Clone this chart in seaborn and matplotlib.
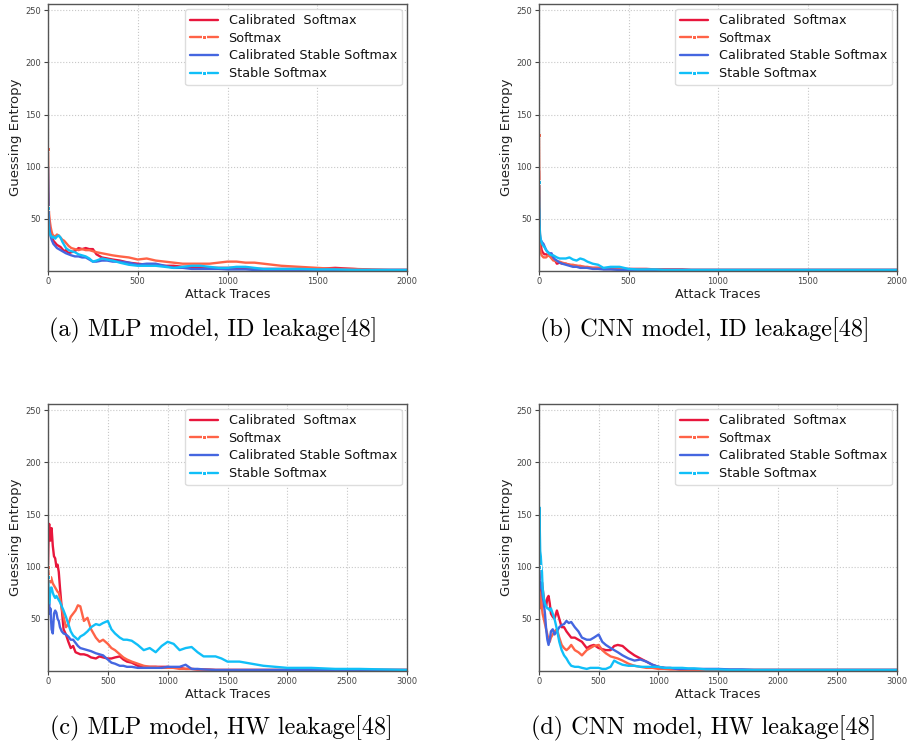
import numpy as np
import pandas as pd
import seaborn as sns
import matplotlib.pyplot as plt

# x grids (attack traces) shared by the panels
x_2000 = [0, 3, 6, 10, 15, 20, 25, 30, 40, 50, 60, 70, 80, 90, 100, 115, 130, 150, 170, 190,
          210, 230, 250, 270, 300, 330, 360, 400, 450, 500, 550, 600, 650, 700, 750, 800, 850,
          900, 950, 1000, 1050, 1100, 1150, 1200, 1300, 1400, 1500, 1600, 1700, 1800, 1900, 2000]
x_3000 = [0, 3, 6, 10, 15, 20, 25, 30, 40, 50, 60, 70, 80, 90, 100, 115, 130, 150, 170, 190,
          210, 230, 250, 270, 300, 330, 360, 400, 430, 460, 500, 530, 560, 600, 630, 660, 700,
          750, 800, 850, 900, 950, 1000, 1050, 1100, 1150, 1200, 1250, 1300, 1400, 1450, 1500,
          1600, 1700, 1800, 1900, 2000, 2200, 2400, 2600, 2800, 3000]

methods = ["Calibrated  Softmax", "Softmax", "Calibrated Stable Softmax", "Stable Softmax"]
colors = ["#e8163c", "#ff6347", "#4466e0", "#10bff8"]
markers = [None, "s", None, "s"]

# (a) MLP, ID leakage
a_cal_soft = [75, 58, 46, 40, 36, 33, 31, 29, 27, 25, 24, 23, 21, 19, 20, 17, 18, 19, 22, 21,
              22, 21, 21, 16, 13, 12, 11, 10, 8, 7, 6, 6, 5, 5, 4, 4, 4, 3, 3, 3,
              3, 3, 2, 2, 2, 2, 2, 3, 2, 1, 1, 1]
a_soft = [117, 70, 55, 48, 42, 38, 35, 34, 33, 35, 34, 32, 30, 29, 27, 24, 22, 21, 20, 21,
          20, 20, 19, 18, 17, 16, 15, 14, 13, 11, 12, 10, 9, 8, 7, 7, 7, 7, 8, 9,
          9, 8, 8, 7, 5, 4, 3, 2, 2, 1.5, 1, 1]
a_cal_stable = [100, 60, 45, 38, 33, 30, 28, 26, 24, 22, 21, 20, 19, 18, 17, 16, 15, 14, 14, 13,
                13, 11, 9, 9, 10, 10, 9, 9, 8, 6, 7, 7, 5, 3, 3, 2, 2, 2, 2, 1.5,
                1.5, 1.5, 1, 1, 1, 1, 1, 1, 1, 1, 1, 1]
a_stable = [60, 45, 38, 36, 34, 33, 32, 33, 31, 33, 34, 32, 28, 25, 22, 20, 19, 18, 16, 15,
            14, 12, 9, 10, 12, 11, 10, 8, 6, 5, 5, 5, 4, 3, 4, 5, 5, 4, 3, 3,
            4, 4, 3, 2, 2, 2, 1.5, 1.5, 1, 1, 1, 1]

# (b) CNN, ID leakage
b_cal_soft = [96, 45, 32, 25, 20, 18, 17, 16, 16, 15, 16, 14, 12, 10, 7, 8, 7, 7, 6, 5,
              5, 4, 4, 3, 3, 3, 2, 2, 2, 2, 2, 2, 1.5, 1.5, 1.5, 1.5, 1, 1, 1, 1,
              1, 1, 1, 1, 1, 1, 1, 1, 1, 1, 1, 1]
b_soft = [130, 40, 22, 18, 15, 14, 13, 13, 13, 15, 14, 12, 10, 10, 9, 9, 8, 7, 6, 6,
          5, 5, 4, 4, 3, 3, 2, 2, 2, 1.5, 1.5, 1.5, 1.5, 1, 1, 1, 1, 1, 1, 1,
          1, 1, 1, 1, 1, 1, 1, 1, 1, 1, 1, 1]
b_cal_stable = [60, 40, 32, 30, 28, 27, 26, 24, 20, 18, 17, 17, 13, 11, 10, 8, 7, 6, 5, 4,
                4, 3, 3, 3, 2, 2, 1.5, 1.5, 1, 1, 1, 1, 1, 1, 1, 1, 1, 1, 1, 1,
                1, 1, 1, 1, 1, 1, 1, 1, 1, 1, 1, 1]
b_stable = [85, 45, 35, 30, 27, 25, 24, 23, 20, 18, 16, 15, 15, 14, 13, 12, 12, 12, 13, 11,
            10, 12, 11, 9, 7, 6, 3, 4, 4, 2, 1.5, 1.5, 1.5, 1, 1, 1, 1, 1, 1, 1,
            1, 1, 1, 1, 1, 1, 1, 1, 1, 1, 1, 1]

# (c) MLP, HW leakage
c_cal_soft = [100, 120, 135, 141, 130, 125, 135, 137, 120, 110, 108, 100, 102, 95, 80, 60, 40, 35, 28, 22,
              24, 18, 17, 16, 16, 15, 13, 12, 14, 13, 12, 12, 13, 14, 11, 9, 8, 5, 4, 4,
              4, 4, 4, 3, 3, 2, 2, 1.5, 1.5, 1, 1, 1, 1, 1, 1, 1, 1, 1, 1, 1, 1, 1]
c_soft = [100, 95, 92, 90, 88, 85, 90, 88, 84, 82, 80, 78, 76, 75, 70, 60, 52, 42, 45, 52,
          55, 58, 63, 62, 48, 51, 40, 32, 28, 30, 26, 22, 20, 16, 13, 11, 9, 7, 5, 4,
          4, 3, 3, 3, 2, 2, 2, 1.5, 1.5, 1, 1, 1, 1, 1, 1, 1, 1, 1, 1, 1, 1, 1]
c_cal_stable = [70, 58, 62, 65, 55, 60, 50, 40, 36, 55, 58, 56, 50, 48, 42, 38, 36, 35, 33, 30,
                30, 27, 24, 22, 21, 20, 19, 17, 16, 15, 11, 8, 7, 5, 5, 4, 4, 3, 3, 3,
                3, 3, 4, 4, 4, 6, 2, 2, 1.5, 1, 1, 1, 1, 1, 1, 1, 1, 1, 1, 1, 1, 1]
c_stable = [90, 85, 75, 65, 70, 78, 80, 80, 75, 72, 70, 72, 70, 68, 66, 62, 58, 52, 45, 38,
            34, 32, 30, 33, 35, 38, 42, 45, 44, 46, 48, 40, 36, 32, 30, 30, 29, 25, 20, 22,
            18, 24, 28, 26, 20, 22, 23, 18, 14, 14, 12, 9, 9, 7, 5, 4, 3, 3, 2, 2, 1.5, 1]

# (d) CNN, HW leakage
d_cal_soft = [95, 90, 80, 75, 70, 75, 85, 80, 70, 65, 62, 70, 72, 65, 55, 52, 50, 58, 50, 42,
              42, 38, 35, 32, 32, 30, 28, 22, 24, 25, 22, 21, 20, 20, 24, 25, 24, 19, 15, 12,
              9, 6, 4, 3, 2, 2, 1.5, 1.5, 1, 1, 1, 1, 1, 1, 1, 1, 1, 1, 1, 1, 1, 1]
d_soft = [85, 70, 60, 65, 75, 70, 60, 55, 50, 45, 40, 35, 30, 28, 32, 35, 38, 40, 32, 25,
          22, 20, 22, 25, 20, 18, 15, 20, 22, 24, 25, 20, 17, 14, 13, 12, 10, 7, 5, 4,
          3, 3, 2, 2, 1.5, 1.5, 1, 1, 1, 1, 1, 1, 1, 1, 1, 1, 1, 1, 1, 1, 1, 1]
d_cal_stable = [120, 100, 85, 80, 85, 80, 78, 72, 65, 55, 40, 30, 25, 30, 38, 40, 35, 38, 42, 44,
                45, 48, 46, 47, 42, 38, 32, 30, 30, 32, 35, 28, 25, 22, 20, 18, 15, 12, 10, 11,
                9, 6, 4, 3, 3, 2, 2, 2, 2, 2, 2, 2, 1.5, 1.5, 1, 1, 1, 1, 1, 1, 1, 1]
d_stable = [100, 157, 140, 115, 110, 100, 95, 80, 70, 65, 62, 60, 60, 58, 60, 55, 50, 40, 28, 20,
            15, 12, 8, 5, 4, 4, 3, 2, 3, 3, 3, 2, 2, 4, 10, 8, 6, 5, 5, 4,
            4, 4, 4, 3, 3, 3, 3, 2.5, 2.5, 1.5, 1.5, 1.5, 1, 1, 1, 1, 1, 1, 1, 1, 1, 1]

panels = [
    (x_2000, [a_cal_soft, a_soft, a_cal_stable, a_stable], "(a) MLP model, ID leakage[48]"),
    (x_2000, [b_cal_soft, b_soft, b_cal_stable, b_stable], "(b) CNN model, ID leakage[48]"),
    (x_3000, [c_cal_soft, c_soft, c_cal_stable, c_stable], "(c) MLP model, HW leakage[48]"),
    (x_3000, [d_cal_soft, d_soft, d_cal_stable, d_stable], "(d) CNN model, HW leakage[48]"),
]

sns.set_style("whitegrid", {
    "grid.linestyle": ":", "grid.color": "#c8c8c8", "axes.edgecolor": "#555555",
    "xtick.bottom": True, "ytick.left": True,
})
plt.rcParams["xtick.major.size"] = 3
plt.rcParams["ytick.major.size"] = 3
plt.rcParams["xtick.color"] = "#444444"
plt.rcParams["ytick.color"] = "#444444"

fig = plt.figure(figsize=(9.07, 7.47), dpi=100)
W, H = 907, 747
boxes = [(48, 4, 407, 271), (539, 4, 897, 271), (48, 404, 407, 671), (539, 404, 897, 671)]
captions_xy = [(213, 330), (705, 330), (221, 728), (704, 728)]

for (xs, series, caption), (l, t, r, b), (cx, cy) in zip(panels, boxes, captions_xy):
    ax = fig.add_axes([l / W, 1 - b / H, (r - l) / W, (b - t) / H])
    for name, vals, col, mk in zip(methods, series, colors, markers):
        df = pd.DataFrame({"Attack Traces": xs, "Guessing Entropy": vals})
        kw = dict(marker=mk, markersize=3, markevery=1000) if mk else {}
        sns.lineplot(data=df, x="Attack Traces", y="Guessing Entropy", ax=ax,
                     color=col, linewidth=1.7, label=name, **kw)
    ax.set_xlim(0, xs[-1])
    ax.set_ylim(0, 256)
    ax.set_xticks(np.arange(0, xs[-1] + 1, 500))
    ax.set_yticks([50, 100, 150, 200, 250])
    ax.tick_params(labelsize=6, width=0.8, pad=2)
    ax.tick_params(axis="x", pad=1.5)
    ax.set_xlabel("Attack Traces", fontsize=9.2, color="#222222")
    ax.set_ylabel("Guessing Entropy", fontsize=9.5, color="#222222")
    ax.xaxis.set_label_coords(0.5, -0.062)
    ax.yaxis.set_label_coords(-0.072, 0.5)
    for sp in ax.spines.values():
        sp.set_linewidth(1.0)
    leg = ax.legend(loc="upper right", fontsize=9.2, frameon=True, edgecolor="#dddddd",
                    framealpha=1, borderaxespad=0.4, labelspacing=0.36, handlelength=2.2)
    for txt in leg.get_texts():
        txt.set_color("#111111")
    fig.text(cx / W, 1 - cy / H, caption, fontsize=17.4, family="cmr10",
             ha="center", va="center", color="black")

fig.savefig("out.png", dpi=100)
